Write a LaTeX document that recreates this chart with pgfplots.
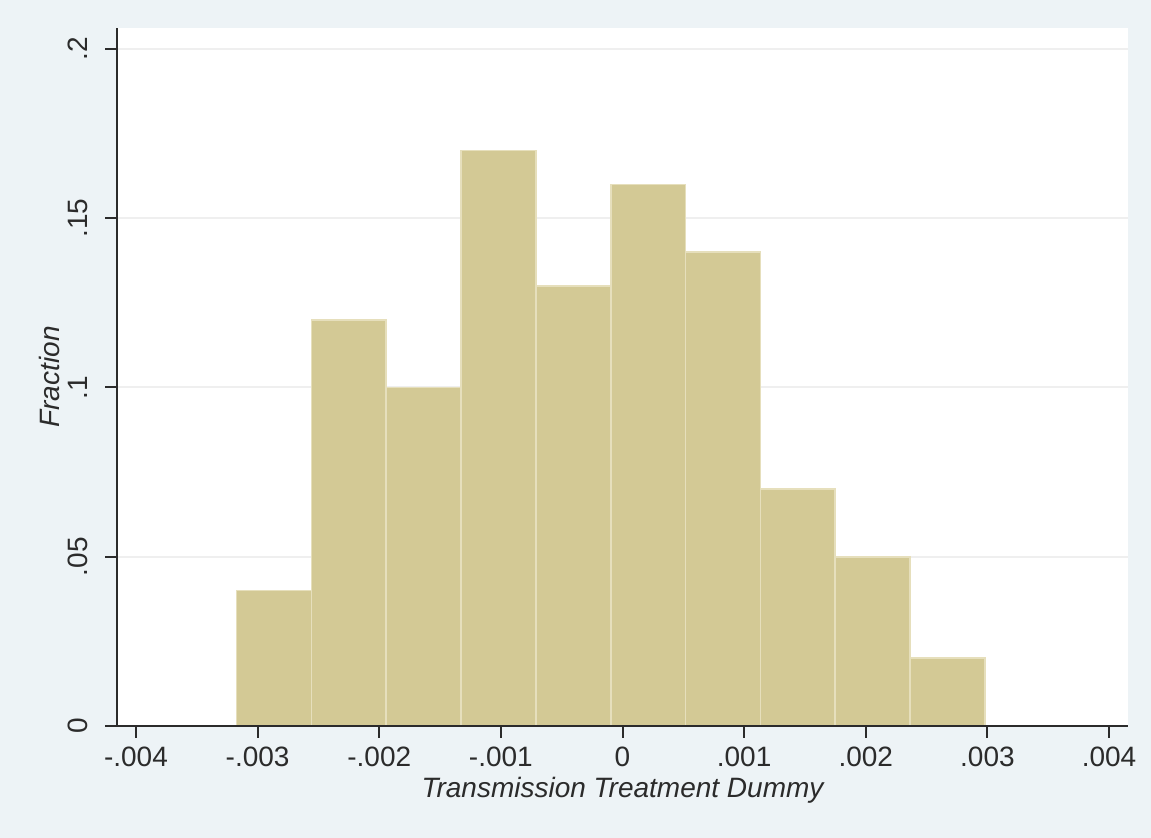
\documentclass[border=0pt]{standalone}
\usepackage{fontspec}
\setmainfont{Liberation Sans}
\usepackage{pgfplots}
\pgfplotsset{compat=1.18}

\definecolor{bgouter}{HTML}{EDF3F6}
\definecolor{barfill}{HTML}{D3C995}
\definecolor{baredge}{HTML}{E6DFBC}
\definecolor{gridc}{HTML}{EFEFEF}
\definecolor{axisc}{HTML}{2B2B2B}

\begin{document}
\begin{tikzpicture}
\fill[bgouter] (0,0) rectangle (575.5pt,419pt);
\begin{axis}[
  at={(58.5pt,56pt)}, anchor=south west,
  scale only axis, width=505.5pt, height=349pt,
  xmin=-0.004156, xmax=0.004156, ymin=0, ymax=0.2062,
  axis background/.style={fill=white},
  axis x line*=bottom, axis y line*=left,
  axis line style={axisc, line width=1pt},
  tick align=outside, major tick length=6pt,
  tick style={axisc, line width=1pt},
  scaled x ticks=false, scaled y ticks=false,
  xtick={-0.004,-0.003,-0.002,-0.001,0,0.001,0.002,0.003,0.004},
  xticklabels={-.004,-.003,-.002,-.001,0,.001,.002,.003,.004},
  ytick={0,0.05,0.1,0.15,0.2},
  yticklabels={0,.05,.1,.15,.2},
  ymajorgrids, grid style={gridc, line width=1pt},
  ticklabel style={font=\fontsize{14}{16}\selectfont, text=axisc},
  yticklabel style={rotate=90, anchor=south},
  yticklabel shift=5pt,
  xticklabel shift=1pt,
  xlabel={\itshape Transmission Treatment Dummy},
  ylabel={\itshape Fraction},
  label style={font=\fontsize{14}{16}\selectfont, text=axisc},
  x label style={at={(axis description cs:0.5,-0.0915)}, anchor=center},
  y label style={at={(axis description cs:-0.0663,0.5)}, anchor=center},
  clip=false,
]
% histogram bins: left edges with fractions, closing edge repeated
\addplot[ybar interval, fill=barfill, draw=baredge, line width=0.8pt]
  coordinates {
    (-0.003172,0.04)
    (-0.002557,0.12)
    (-0.001942,0.10)
    (-0.001327,0.17)
    (-0.000712,0.13)
    (-0.000097,0.16)
    (0.000518,0.14)
    (0.001133,0.07)
    (0.001748,0.05)
    (0.002363,0.02)
    (0.002978,0.02)
  };
% x axis line runs a tick length past the y axis
\draw[axisc, line width=1pt] ([xshift=-6pt]rel axis cs:0,0) -- (rel axis cs:1,0);
\end{axis}
\pgfresetboundingbox
\path (0,0) rectangle (575.5pt,419pt);
\end{tikzpicture}
\end{document}
